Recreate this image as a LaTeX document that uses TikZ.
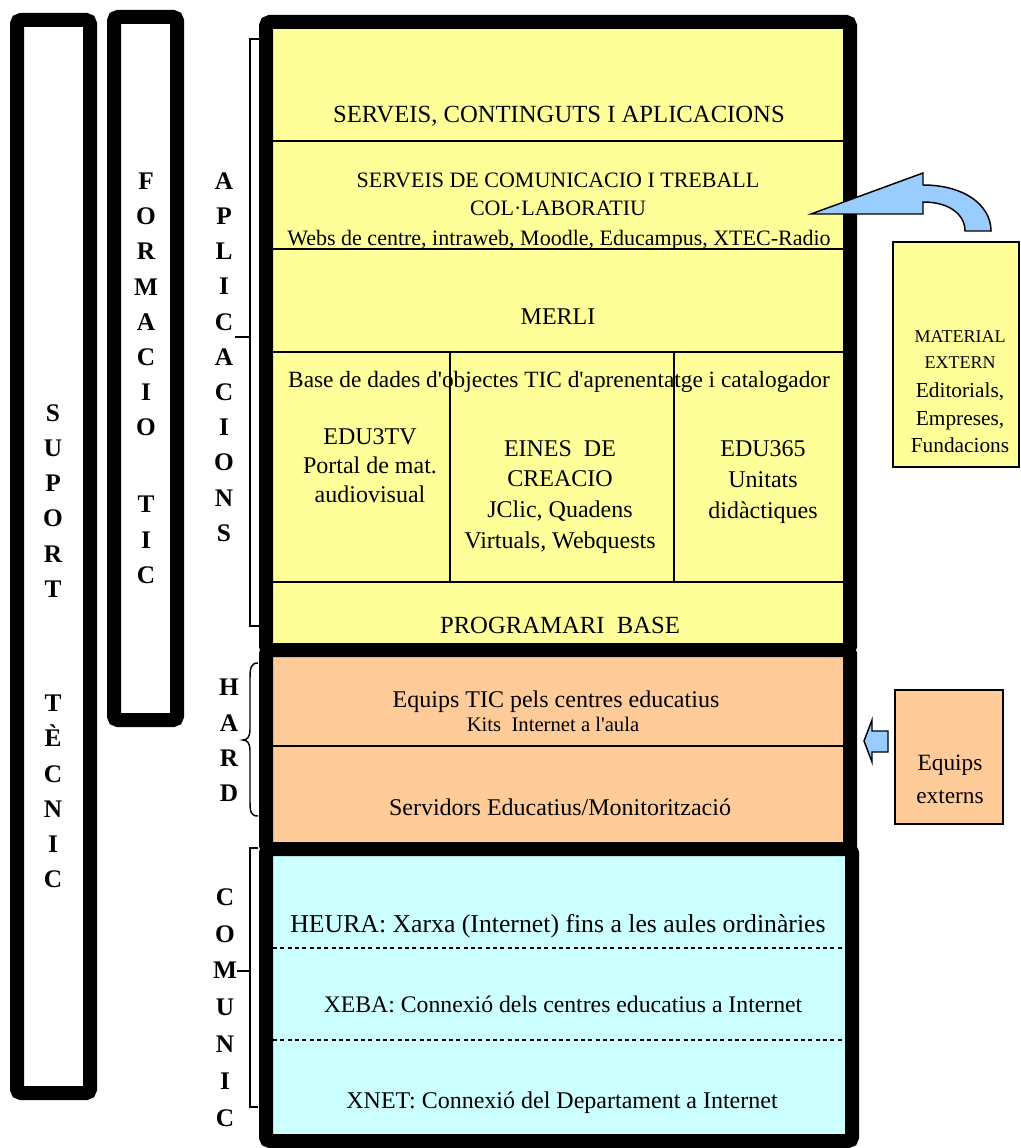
\documentclass[tikz,border=0pt]{standalone}
\usepackage{fontspec}
\setmainfont{Liberation Serif}[Ligatures=TeXOff]
\definecolor{ylw}{HTML}{FFFF99}
\definecolor{org}{HTML}{FFCC99}
\definecolor{cyn}{HTML}{CCFFFF}
\definecolor{blu}{HTML}{99CCFF}
\begin{document}
\begin{tikzpicture}[x=0.75pt,y=-0.75pt,
  heavybox/.style={line width=10.5pt, rounded corners=3pt},
  thinline/.style={line width=1.1pt},
  lbl/.style={anchor=base, inner sep=0pt},
  multi/.style={anchor=north, inner sep=0pt, align=center},
  vlet/.style={inner sep=0pt, align=center, font=\bfseries\fontsize{19pt}{26.4pt}\selectfont},
  fs/.style={font=\fontsize{#1}{#1}\selectfont}]
\useasboundingbox (0,0) rectangle (1020,1148);
\fill[white] (0,0) rectangle (1020,1148);

% left bars
\draw[heavybox] (17,20) rectangle (90,1093);
\draw[heavybox] (114,17) rectangle (177,720);

% main stack
\draw[heavybox, fill=ylw] (266,22) rectangle (850,650);
\draw[heavybox, fill=org] (266,650) rectangle (850,849);
\draw[heavybox, fill=cyn] (266,849) rectangle (852,1141);

% yellow dividers
\draw[thinline] (273,141) -- (843,141);
\draw[thinline] (273,249) -- (843,249);
\draw[thinline] (273,352) -- (843,352);
\draw[thinline] (273,582) -- (843,582);
\draw[thinline] (450,352) -- (450,582);
\draw[thinline] (674,352) -- (674,582);
% orange divider
\draw[thinline] (273,746) -- (843,746);
% cyan dotted dividers
\draw[line width=1.6pt, dash pattern=on 3pt off 2.5pt] (273,948) -- (845,948);
\draw[line width=1.6pt, dash pattern=on 3pt off 2.5pt] (273,1040) -- (845,1040);

% yellow texts
\node[lbl,fs=18.5pt] (sca) at (559,123) {SERVEIS, CONTINGUTS I APLICACIONS};
\node[lbl,fs=16.5pt] (sct1) at (558,188) {SERVEIS DE COMUNICACIO I TREBALL};
\node[lbl,fs=16.5pt] (sct2) at (558,216) {COL·LABORATIU};
\node[lbl,fs=16.5pt] (webs) at (559,245) {Webs de centre, intraweb, Moodle, Educampus, XTEC-Radio};
\node[lbl,fs=18pt] (merli) at (558,324) {MERLI};
\node[lbl,fs=17.5pt] (bdd) at (559,387) {Base de dades d'objectes TIC d'aprenentatge i catalogador};
\node[multi,font=\fontsize{18pt}{22pt}\selectfont] (edu3) at (370,428) {EDU3TV\\Portal de mat.\\audiovisual};
\node[multi,font=\fontsize{18pt}{23pt}\selectfont] (eines) at (560,440) {EINES\ \ DE\\CREACIO\\JClic, Quadens\\Virtuals, Webquests};
\node[multi,font=\fontsize{18pt}{23.4pt}\selectfont] (edu365) at (763,440) {EDU365\\Unitats\\didàctiques};
\node[lbl,fs=18.5pt] (prog) at (560,633) {PROGRAMARI\ \ BASE};

% orange texts
\node[lbl,fs=18pt] (equips) at (556,707) {Equips TIC pels centres educatius};
\node[lbl,fs=15.5pt] (kits) at (553,731) {Kits\ \ Internet a l'aula};
\node[lbl,fs=18pt] (serv) at (560,815) {Servidors Educatius/Monitorització};

% cyan texts
\node[lbl,fs=19.3pt] (heura) at (558,932) {HEURA: Xarxa (Internet) fins a les aules ordinàries};
\node[lbl,fs=17.8pt] (xeba) at (563,1012) {XEBA: Connexió dels centres educatius a Internet};
\node[lbl,fs=18pt] (xnet) at (562,1108) {XNET: Connexió del Departament a Internet};

% vertical letters
\node[vlet] (sup) at (53,501) {S\\U\\P\\O\\R\\T};
\node[vlet] (tec) at (53,791.5) {T\\È\\C\\N\\I\\C};
\node[vlet] (form) at (146,304.5) {F\\O\\R\\M\\A\\C\\I\\O};
\node[vlet] (tic) at (146,540) {T\\I\\C};
\node[vlet] (apl) at (224,357) {A\\P\\L\\I\\C\\A\\C\\I\\O\\N\\S};
\node[vlet] (hard) at (229,740.5) {H\\A\\R\\D};
\node[vlet,font=\bfseries\fontsize{19pt}{27.6pt}\selectfont] (com) at (225,1007.5) {C\\O\\M\\U\\N\\I\\C};

% brackets
\draw[thinline] (259,39) -- (250,39) -- (250,626) -- (259,626);
\draw[thinline] (250,337) -- (235,337);
\draw[thinline] (258,663) .. controls (251,663) and (250,668) .. (250,678) -- (250,730)
  .. controls (250,737) and (247,740) .. (243,740)
  .. controls (247,740) and (250,743) .. (250,750) -- (250,802)
  .. controls (250,812) and (251,816) .. (258,816);
\draw[thinline] (258,848) -- (250,848) -- (250,1107) -- (258,1107);
\draw[thinline] (250,971) -- (237,971);

% external boxes
\draw[line width=1.1pt, fill=ylw] (893,242) rectangle (1019,467);
\node[lbl,fs=13.5pt] (mat1) at (960,342) {MATERIAL};
\node[lbl,fs=13.5pt] (mat2) at (960,368) {EXTERN};
\node[lbl,fs=16pt] (mat3) at (960,397) {Editorials,};
\node[lbl,fs=16pt] (mat4) at (960,425) {Empreses,};
\node[lbl,fs=16pt] (mat5) at (960,452) {Fundacions};
\draw[line width=1.1pt, fill=org] (895,690) rectangle (1003,824);
\node[lbl,fs=17.5pt] (ext1) at (950,770) {Equips};
\node[lbl,fs=17.5pt] (ext2) at (950,803) {externs};

% arrows
\draw[line width=1.1pt, fill=blu, line join=miter] (811,214) -- (923,173) -- (923,185)
  .. controls (964,185) and (991,205) .. (991,231) -- (965,231)
  .. controls (965,215) and (950,202) .. (923,202) -- (923,214) -- cycle;
\draw[line width=1.1pt, fill=blu, line join=miter] (864,741) -- (872,720) -- (872,731) -- (888,731)
  -- (888,752) -- (872,752) -- (872,762) -- cycle;
\end{tikzpicture}
\end{document}
